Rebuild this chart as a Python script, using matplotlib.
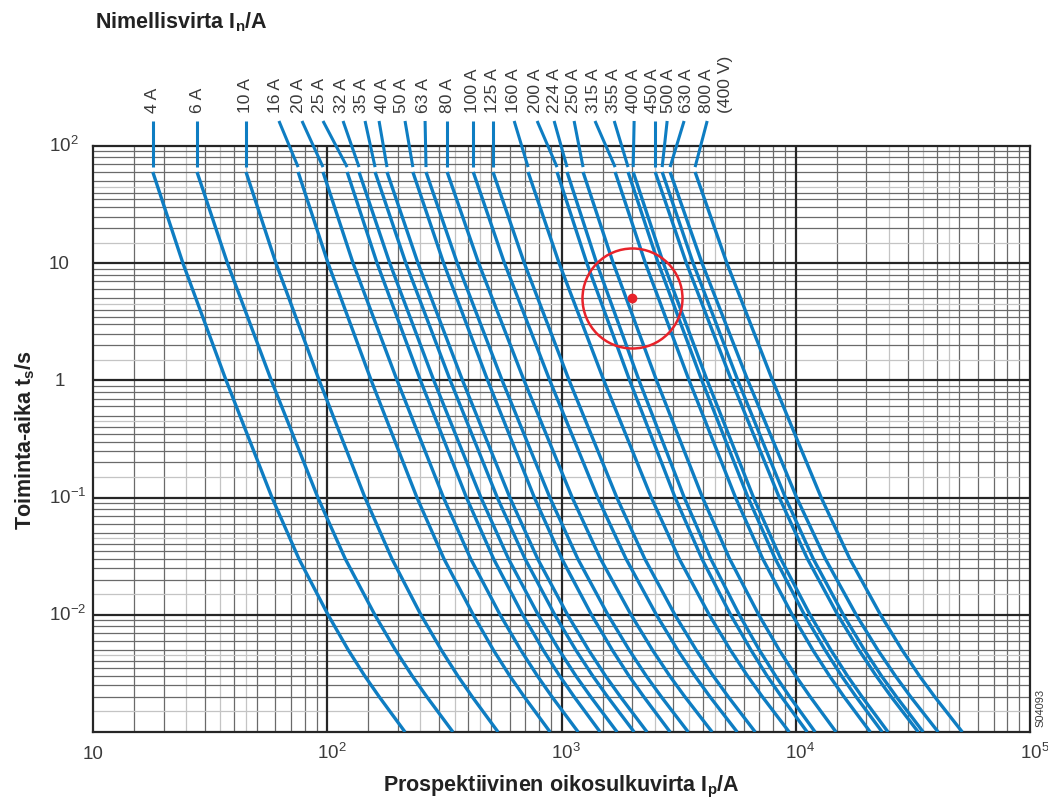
import numpy as np
import matplotlib
matplotlib.use("Agg")
from matplotlib import pyplot as plt
from matplotlib import transforms

plt.rcParams['font.family'] = ['Liberation Sans', 'DejaVu Sans']
plt.rcParams['mathtext.fontset'] = 'custom'
plt.rcParams['mathtext.rm'] = 'Liberation Sans'
plt.rcParams['mathtext.it'] = 'Liberation Sans:italic'
plt.rcParams['mathtext.bf'] = 'Liberation Sans:bold'

# fuse ratings and time levels (s) where the curves were read
fuses = ["4 A", "6 A", "10 A", "16 A", "20 A", "25 A", "32 A", "35 A", "40 A",
         "50 A", "63 A", "80 A", "100 A", "125 A", "160 A", "200 A", "224 A",
         "250 A", "315 A", "355 A", "400 A", "450 A", "500 A", "630 A", "800 A"]
times = [60, 10, 1, 0.1, 0.03, 0.01, 0.005, 0.003, 0.002, 0.001]

# prospective current (A) of each curve at the time levels above
i_t60 = [18.0, 27.8, 45.0, 75.1, 95.9, 121.6, 136.7, 160, 179.9, 232, 264, 325,
         420, 510, 720, 957, 1056, 1236, 1694, 1924, 2023, 2512, 2690, 2908, 3718]
i_t10 = [24.2, 37.5, 60.4, 100.8, 128.9, 163.2, 184.9, 216.6, 244, 314, 359, 443,
         571, 694, 977, 1283, 1413, 1663, 2281, 2589, 2723, 3414, 3648, 3981, 5082]
i_t1 = [37.0, 57.7, 92.4, 154, 198.7, 250, 285, 335, 378, 484, 558, 692,
        891, 1078, 1516, 1954, 2143, 2545, 3506, 3972, 4187, 5316, 5660, 6245, 7962]
i_t0_1 = [58.1, 91.2, 144.9, 241.5, 313.5, 393, 453, 532, 602, 766, 892, 1111,
          1427, 1723, 2418, 3056, 3342, 4000, 5534, 6258, 6605, 8505, 9031, 10090, 12840]
i_t0_03 = [75.7, 119.4, 188.9, 315, 409.5, 513, 594, 699, 791, 1004, 1174, 1467,
           1886, 2268, 3182, 3977, 4337, 5222, 7232, 8176, 8630, 11220, 11880, 13380, 17010]
i_t0_01 = [100.8, 159.6, 251, 420, 547, 683, 795, 936, 1061, 1343, 1578, 1981,
           2541, 3049, 4272, 5272, 5741, 6950, 9660, 10890, 11510, 15100, 15960, 18110, 23010]
i_t0_005 = [123.0, 195.5, 307, 512, 670, 835.5, 977, 1151, 1306, 1648, 1946, 2446,
            3134, 3760, 5262, 6440, 6994, 8505, 11830, 13340, 14130, 18620, 19650, 22420, 28460]
i_t0_003 = [144.7, 230.7, 361.2, 602, 790, 983, 1153, 1361, 1543, 1943, 2302, 2900,
            3715, 4448, 6229, 7553, 8209, 10010, 13950, 15700, 16640, 22070, 23250, 26660, 33770]
i_t0_002 = [166.6, 266.0, 415.6, 693, 910, 1132, 1332, 1572, 1784, 2244, 2666, 3361,
            4302, 5150, 7201, 8686, 9418, 11520, 16060, 18090, 19170, 25550, 26890, 30920, 39170]
i_t0_001 = [214.8, 344, 536, 894, 1178, 1462, 1727, 2042, 2318, 2908, 3475, 4395,
            5623, 6714, 9376, 11190, 12100, 14860, 20800, 23390, 24770, 33340, 35000, 40550, 51400]

# current where each lead line leaves the label, and where the label text sits
lead_i = [18.0, 27.8, 45.0, 62.2, 78.0, 95.9, 116.8, 145, 166.4, 214.8, 261.6, 325,
          420, 510, 628, 787, 930, 1132, 1390, 1679, 2042, 2512, 2825, 3337, 4187]
label_i = [17.9, 27.8, 44.6, 59.9, 75.1, 93.1, 115.6, 139.4, 171.4, 206.6, 256.5, 325,
           415, 510, 621, 771, 930, 1122, 1365, 1660, 2023, 2440, 2850, 3404, 4141]
volt_label = "(400 V)"
volt_i = 5000

# marked operating point
mark_i = 2000
mark_t = 5

xticks = [10, 1e2, 1e3, 1e4, 1e5]
xtick_labels = ["10", "$10^{2}$", "$10^{3}$", "$10^{4}$", "$10^{5}$"]
yticks = [1e-2, 1e-1, 1, 10, 1e2]
ytick_labels = ["$10^{-2}$", "$10^{-1}$", "1", "10", "$10^{2}$"]

blue = "#0e7dc2"
txt = "#3a3a3a"

fig = plt.figure(figsize=(10.48, 8.02), dpi=100)
ax = fig.add_axes([93 / 1048, 1 - 732 / 802, 937 / 1048, 586 / 802])
ax.set_xscale("log")
ax.set_yscale("log")
ax.set_xlim(10, 1e5)
ax.set_ylim(1e-3, 1e2)

# grid: half steps light, integer steps darker, decades black
light = [2.5, 3.5, 4.5]
dark = [1.5, 2, 3, 4, 5, 6, 7, 8, 9]
for d in [10, 100, 1000, 10000]:
    for s in light:
        ax.axvline(d * s, color="#c4c4c4", lw=0.9, zorder=1)
    for s in dark:
        ax.axvline(d * s, color="#6a6a6a", lw=0.9, zorder=1)
for d in [1e-3, 1e-2, 1e-1, 1, 10]:
    for s in [1.5, 4.5]:
        ax.axhline(d * s, color="#c4c4c4", lw=0.9, zorder=1)
    for s in [2, 2.5, 3, 3.5, 4, 5, 6, 7, 8, 9]:
        ax.axhline(d * s, color="#6a6a6a", lw=0.9, zorder=1)
for v in [100, 1000, 10000]:
    ax.axvline(v, color="#262626", lw=1.6, zorder=1.5)
for v in [1e-2, 1e-1, 1, 10]:
    ax.axhline(v, color="#262626", lw=1.6, zorder=1.5)
for sp in ax.spines.values():
    sp.set_linewidth(1.6)
    sp.set_color("#262626")

# curves
for k in range(len(fuses)):
    cur = [i_t60[k], i_t10[k], i_t1[k], i_t0_1[k], i_t0_03[k], i_t0_01[k],
           i_t0_005[k], i_t0_003[k], i_t0_002[k], i_t0_001[k]]
    ax.plot(cur, times, color=blue, lw=2.4, solid_capstyle="butt",
            solid_joinstyle="round", zorder=3)

# lead lines and labels above the plot
trans = transforms.blended_transform_factory(ax.transData, ax.transAxes)
for k in range(len(fuses)):
    ax.plot([lead_i[k], i_t60[k]], [1.0427, 0.964], color=blue, lw=2.2,
            transform=trans, clip_on=False, solid_capstyle="butt", zorder=3)
    ax.annotate(fuses[k], xy=(label_i[k], 1.0), xycoords=trans,
                xytext=(0, 33), textcoords="offset pixels",
                rotation=90, ha="center", va="bottom", fontsize=12.6, color=txt)
ax.annotate(volt_label, xy=(volt_i, 1.0), xycoords=trans,
            xytext=(0, 33), textcoords="offset pixels",
            rotation=90, ha="center", va="bottom", fontsize=12.6, color=txt)

# marked point
ax.plot(mark_i, mark_t, "o", ms=72, mfc="none", mec="#e8232b", mew=1.8, zorder=4)
ax.plot(mark_i, mark_t, "o", ms=6, color="#e8232b", zorder=4)

# tick labels drawn by hand so the "10" part sits on the line
ax.set_xticks([])
ax.set_yticks([])
ax.xaxis.set_minor_locator(matplotlib.ticker.NullLocator())
ax.yaxis.set_minor_locator(matplotlib.ticker.NullLocator())
for v, lab in zip(xticks, xtick_labels):
    ax.annotate(lab, xy=(v, 0), xycoords=("data", "axes fraction"),
                xytext=(-10.5, -27), textcoords="offset pixels",
                ha="left", va="baseline", fontsize=13.5, color=txt)
for v, lab in zip(yticks, ytick_labels):
    dx = -38 if lab == "1" else -44
    ax.annotate(lab, xy=(0, v), xycoords=("axes fraction", "data"),
                xytext=(dx, -6), textcoords="offset pixels",
                ha="left", va="baseline", fontsize=13.5, color=txt)

fig.text(0.5355, 1 - 787 / 802, "Prospektiivinen oikosulkuvirta I$_{\\mathbf{p}}$/A",
         ha="center", va="center", fontsize=15.5, fontweight="bold", color="#222222")
fig.text(25 / 1048, 1 - 440 / 802, "Toiminta-aika t$_{\\mathbf{s}}$/s", rotation=90,
         ha="center", va="center", fontsize=15.5, fontweight="bold", color="#222222")
fig.text(95 / 1048, 1 - 22 / 802, "Nimellisvirta I$_{\\mathbf{n}}$/A",
         ha="left", va="center", fontsize=15.5, fontweight="bold", color="#222222")
fig.text(1040 / 1048, 1 - 708 / 802, "S04093", rotation=90,
         ha="center", va="center", fontsize=8, color=txt)

fig.savefig("out.png", dpi=100)
